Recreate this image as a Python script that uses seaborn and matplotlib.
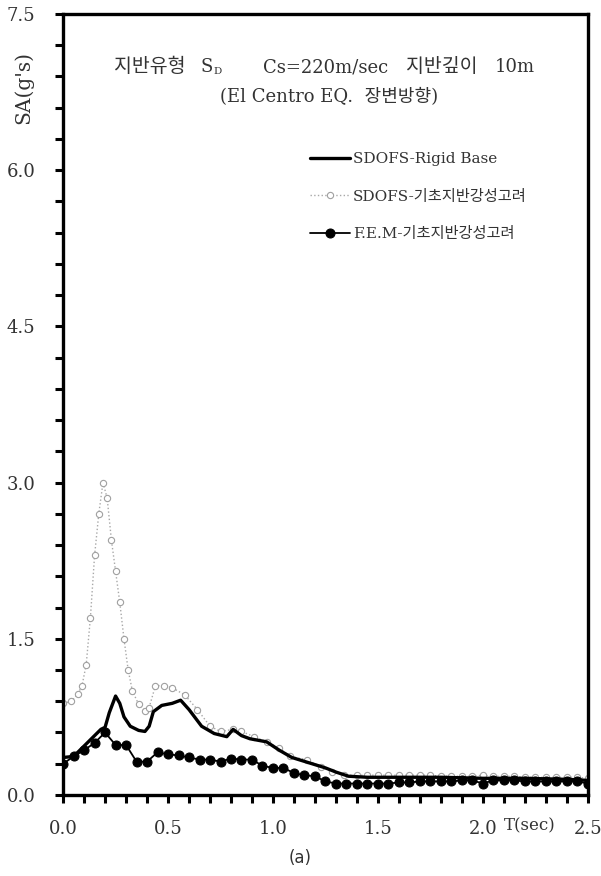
import numpy as np
import pandas as pd
import seaborn as sns
import matplotlib.pyplot as plt

# Data (period T in sec, SA in g)
rigid_t = [0.00, 0.05, 0.12, 0.18, 0.20, 0.22, 0.25, 0.27, 0.29, 0.32, 0.36, 0.39,
           0.41, 0.43, 0.47, 0.52, 0.56, 0.60, 0.66, 0.72, 0.78, 0.81, 0.85, 0.89,
           0.97, 1.03, 1.09, 1.17, 1.25, 1.30, 1.36, 1.45, 1.60, 1.80, 2.00, 2.20,
           2.40, 2.50]
rigid_sa = [0.36, 0.37, 0.51, 0.63, 0.65, 0.79, 0.95, 0.88, 0.75, 0.66, 0.62, 0.61,
            0.66, 0.80, 0.86, 0.88, 0.91, 0.82, 0.66, 0.59, 0.56, 0.63, 0.57, 0.54,
            0.51, 0.43, 0.36, 0.31, 0.26, 0.22, 0.18, 0.17, 0.17, 0.17, 0.16, 0.16,
            0.15, 0.14]

soil_t = [0.00, 0.04, 0.07, 0.09, 0.11, 0.13, 0.15, 0.17, 0.19, 0.21, 0.23, 0.25,
          0.27, 0.29, 0.31, 0.33, 0.36, 0.39, 0.41, 0.44, 0.48, 0.52, 0.58, 0.64,
          0.70, 0.75, 0.81, 0.85, 0.91, 0.97, 1.03, 1.08, 1.16, 1.23, 1.28, 1.34,
          1.40, 1.45, 1.50, 1.55, 1.60, 1.65, 1.70, 1.75, 1.80, 1.85, 1.90, 1.95,
          2.00, 2.05, 2.10, 2.15, 2.20, 2.25, 2.30, 2.35, 2.40, 2.45, 2.50]
soil_sa = [0.88, 0.90, 0.97, 1.05, 1.25, 1.70, 2.30, 2.70, 3.00, 2.85, 2.45, 2.15,
           1.85, 1.50, 1.20, 1.00, 0.87, 0.81, 0.84, 1.05, 1.05, 1.03, 0.96, 0.82,
           0.66, 0.61, 0.63, 0.61, 0.56, 0.51, 0.45, 0.37, 0.34, 0.27, 0.22, 0.19,
           0.19, 0.19, 0.19, 0.19, 0.19, 0.19, 0.19, 0.19, 0.18, 0.18, 0.18, 0.18,
           0.19, 0.18, 0.18, 0.18, 0.17, 0.17, 0.17, 0.17, 0.17, 0.17, 0.16]

fem_t = [0.00, 0.05, 0.10, 0.15, 0.20, 0.25, 0.30, 0.35, 0.40, 0.45, 0.50, 0.55,
         0.60, 0.65, 0.70, 0.75, 0.80, 0.85, 0.90, 0.95, 1.00, 1.05, 1.10, 1.15,
         1.20, 1.25, 1.30, 1.35, 1.40, 1.45, 1.50, 1.55, 1.60, 1.65, 1.70, 1.75,
         1.80, 1.85, 1.90, 1.95, 2.00, 2.05, 2.10, 2.15, 2.20, 2.25, 2.30, 2.35,
         2.40, 2.45, 2.50]
fem_sa = [0.30, 0.37, 0.43, 0.50, 0.60, 0.48, 0.48, 0.32, 0.32, 0.41, 0.39, 0.38,
          0.36, 0.34, 0.34, 0.32, 0.35, 0.34, 0.34, 0.28, 0.26, 0.26, 0.21, 0.19,
          0.18, 0.13, 0.11, 0.11, 0.11, 0.11, 0.11, 0.11, 0.12, 0.12, 0.13, 0.13,
          0.13, 0.13, 0.14, 0.14, 0.11, 0.14, 0.14, 0.14, 0.13, 0.13, 0.13, 0.13,
          0.13, 0.13, 0.11]

labels = ['SDOFS-Rigid Base', 'SDOFS-기초지반강성고려', 'F.E.M-기초지반강성고려']

df_rigid = pd.DataFrame({'T': rigid_t, 'SA': rigid_sa})
df_soil = pd.DataFrame({'T': soil_t, 'SA': soil_sa})
df_fem = pd.DataFrame({'T': fem_t, 'SA': fem_sa})

sns.set_style('ticks')
plt.rcParams['font.family'] = ['DejaVu Serif', 'Noto Sans CJK KR', 'DejaVu Sans']

W, H = 601, 876
fig, ax = plt.subplots(figsize=(W / 100, H / 100), dpi=100)
fig.subplots_adjust(left=0.105, right=0.978, bottom=0.0925, top=0.984)

# soil curve first so the black ones sit on top
sns.lineplot(data=df_soil, x='T', y='SA', ax=ax, color='#a8a8a8', lw=1.0, ls=':',
             marker='o', markersize=4.5, markerfacecolor='white',
             markeredgecolor='#a0a0a0', markeredgewidth=0.8, label=labels[1],
             sort=False, zorder=2)
sns.lineplot(data=df_rigid, x='T', y='SA', ax=ax, color='black', lw=2.4,
             label=labels[0], sort=False, zorder=3)
sns.lineplot(data=df_fem, x='T', y='SA', ax=ax, color='black', lw=1.3,
             marker='o', markersize=6.5, markeredgecolor='black',
             label=labels[2], sort=False, zorder=4)

ax.set_xlim(0, 2.5)
ax.set_ylim(0, 7.5)
ax.set_xticks([0.0, 0.5, 1.0, 1.5, 2.0, 2.5])
ax.set_xticks(np.arange(0, 2.51, 0.1), minor=True)
ax.set_yticks([0.0, 1.5, 3.0, 4.5, 6.0, 7.5])
ax.set_yticks(np.arange(0, 7.51, 0.3), minor=True)
ax.set_xticklabels(['0.0', '0.5', '1.0', '1.5', '2.0', '2.5'])
ax.set_yticklabels(['0.0', '1.5', '3.0', '4.5', '6.0', '7.5'])
ax.tick_params(which='both', direction='out', length=6, width=2.2, color='black')
ax.tick_params(axis='x', pad=12, labelsize=13, labelcolor='#333333')
ax.tick_params(axis='y', pad=14, labelsize=13, labelcolor='#333333')
for sp in ax.spines.values():
    sp.set_visible(True)
    sp.set_linewidth(2.4)
    sp.set_color('black')

ax.set_ylabel("SA(g's)", fontsize=14.5, color='#333333')
ax.yaxis.set_label_coords(-0.057, 0.9065)
ax.set_xlabel('')
ax.text(2.225, -0.04, 'T(sec)', transform=ax.get_xaxis_transform(), ha='center',
        va='center', fontsize=12, color='#333333')

# title block inside the axes (positions in figure pixels, from top)
def fig_xy(px, py):
    return px / W, 1 - py / H

tkw = dict(transform=fig.transFigure, fontsize=13, va='center', color='#333333')
ax.text(*fig_xy(114, 67), '지반유형', ha='left', transform=fig.transFigure,
        fontsize=14, va='center', color='#333333')
ax.text(*fig_xy(201, 67), 'S', ha='left', **tkw)
ax.text(*fig_xy(213, 72), 'D', transform=fig.transFigure, fontsize=7.5,
        ha='left', va='center', color='#333333')
ax.text(*fig_xy(263, 67), 'Cs=220m/sec', ha='left', **tkw)
ax.text(*fig_xy(406, 67), '지반깊이', ha='left', transform=fig.transFigure,
        fontsize=14, va='center', color='#333333')
ax.text(*fig_xy(535, 67), '10m', ha='right', **tkw)
ax.text(*fig_xy(329, 97), '(El Centro EQ.  장변방향)', ha='center', **tkw)

handles, lbls = ax.get_legend_handles_labels()
order = [lbls.index(l) for l in labels]
leg = ax.legend([handles[i] for i in order], [lbls[i] for i in order],
                loc='upper left', bbox_to_anchor=(0.445, 0.841), frameon=False,
                handlelength=2.6, handletextpad=0.2, labelspacing=1.55,
                fontsize=11)
for t in leg.get_texts():
    t.set_color('#333333')

fig.text(*fig_xy(300, 858), '(a)', fontsize=12, ha='center', va='center',
         family='DejaVu Sans', color='#333333')

fig.savefig('out.png', dpi=100)
